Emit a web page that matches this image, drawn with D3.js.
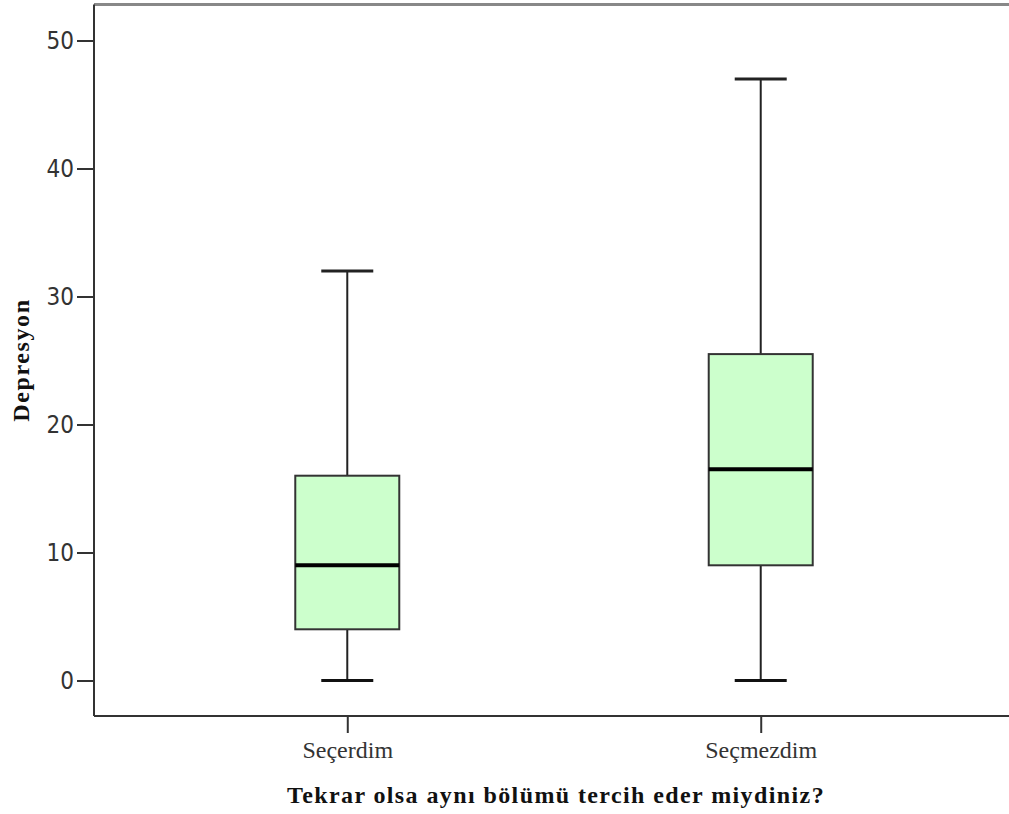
<!DOCTYPE html>
<html>
<head>
<meta charset="utf-8">
<script src="https://cdn.jsdelivr.net/npm/d3@7"></script>
<style>
body{margin:0;background:#fff;}
svg{display:block;}
</style>
</head>
<body>
<svg id="chart" width="1009" height="814"></svg>
<script>
const categories = ["Seçerdim", "Seçmezdim"];
const whiskerLow = [0, 0];
const q1 = [4, 9];
const medians = [9, 16.5];
const q3 = [16, 25.5];
const whiskerHigh = [32, 47];
const yTicks = [0, 10, 20, 30, 40, 50];
const yTitle = "Depresyon";
const xTitle = "Tekrar olsa aynı bölümü tercih eder miydiniz?";

(function () {
const svg = d3.select("#chart");
const pLeft = 94, pRight = 1014, pTop = 4.5, pBottom = 716;

const y = d3.scaleLinear().domain([0, 50]).range([680.5, 40.5]);
const x = d3.scalePoint().domain(categories).range([pLeft, pRight]).padding(0.6126);
const boxW = 104, capW = 52;

// frame
svg.append("line").attr("x1", pLeft).attr("x2", pRight).attr("y1", pTop).attr("y2", pTop)
  .attr("stroke", "#888").attr("stroke-width", 3);

const yAxis = svg.append("g").attr("transform", `translate(${pLeft},0)`)
  .call(d3.axisLeft(y).tickValues(yTicks).tickSize(17).tickPadding(3).tickFormat(d3.format("d")));
yAxis.select(".domain").remove();
yAxis.append("line").attr("x1", 0).attr("x2", 0).attr("y1", pTop).attr("y2", pBottom)
  .attr("stroke", "#333").attr("stroke-width", 2);
yAxis.selectAll(".tick line").attr("stroke", "#333").attr("stroke-width", 2);
yAxis.selectAll(".tick text").attr("fill", "#333")
  .style("font-family", "'Liberation Sans Narrow','DejaVu Sans Condensed','Liberation Sans',sans-serif")
  .style("font-size", "24px");

const xAxis = svg.append("g").attr("transform", `translate(0,${pBottom})`)
  .call(d3.axisBottom(x).tickSize(17).tickPadding(8));
xAxis.select(".domain").remove();
xAxis.append("line").attr("x1", pLeft).attr("x2", pRight).attr("y1", 0).attr("y2", 0)
  .attr("stroke", "#333").attr("stroke-width", 2);
xAxis.selectAll(".tick line").attr("stroke", "#333").attr("stroke-width", 2);
xAxis.selectAll(".tick text").attr("fill", "#333")
  .style("font-family", "'Liberation Serif','Times New Roman',serif")
  .style("font-size", "24px");

// boxes
const data = categories.map((c, i) => ({c, lo: whiskerLow[i], q1: q1[i], med: medians[i], q3: q3[i], hi: whiskerHigh[i]}));
const g = svg.append("g").selectAll("g").data(data).join("g");
g.append("line").attr("x1", d => x(d.c)).attr("x2", d => x(d.c))
  .attr("y1", d => y(d.hi)).attr("y2", d => y(d.q3)).attr("stroke", "#222").attr("stroke-width", 2);
g.append("line").attr("x1", d => x(d.c)).attr("x2", d => x(d.c))
  .attr("y1", d => y(d.q1)).attr("y2", d => y(d.lo)).attr("stroke", "#222").attr("stroke-width", 2);
g.append("line").attr("x1", d => x(d.c) - capW/2).attr("x2", d => x(d.c) + capW/2)
  .attr("y1", d => y(d.hi)).attr("y2", d => y(d.hi)).attr("stroke", "#222").attr("stroke-width", 3);
g.append("line").attr("x1", d => x(d.c) - capW/2).attr("x2", d => x(d.c) + capW/2)
  .attr("y1", d => y(d.lo)).attr("y2", d => y(d.lo)).attr("stroke", "#111").attr("stroke-width", 3);
g.append("rect").attr("x", d => x(d.c) - boxW/2).attr("width", boxW)
  .attr("y", d => y(d.q3)).attr("height", d => y(d.q1) - y(d.q3))
  .attr("fill", "#ccffcc").attr("stroke", "#333").attr("stroke-width", 2);
g.append("line").attr("x1", d => x(d.c) - boxW/2).attr("x2", d => x(d.c) + boxW/2)
  .attr("y1", d => y(d.med)).attr("y2", d => y(d.med)).attr("stroke", "#000").attr("stroke-width", 4);

// titles
svg.append("text").attr("x", 556).attr("y", 803).attr("text-anchor", "middle")
  .style("font-family", "'Liberation Serif','Times New Roman',serif").style("font-weight", "bold")
  .style("font-size", "24px").style("letter-spacing", "1.4px").attr("fill", "#111").text(xTitle);
svg.append("text").attr("transform", "translate(29,360) rotate(-90)").attr("text-anchor", "middle")
  .style("font-family", "'Liberation Serif','Times New Roman',serif").style("font-weight", "bold")
  .style("font-size", "24px").style("letter-spacing", "1.6px").attr("fill", "#111").text(yTitle);
})();
</script>
</body>
</html>
